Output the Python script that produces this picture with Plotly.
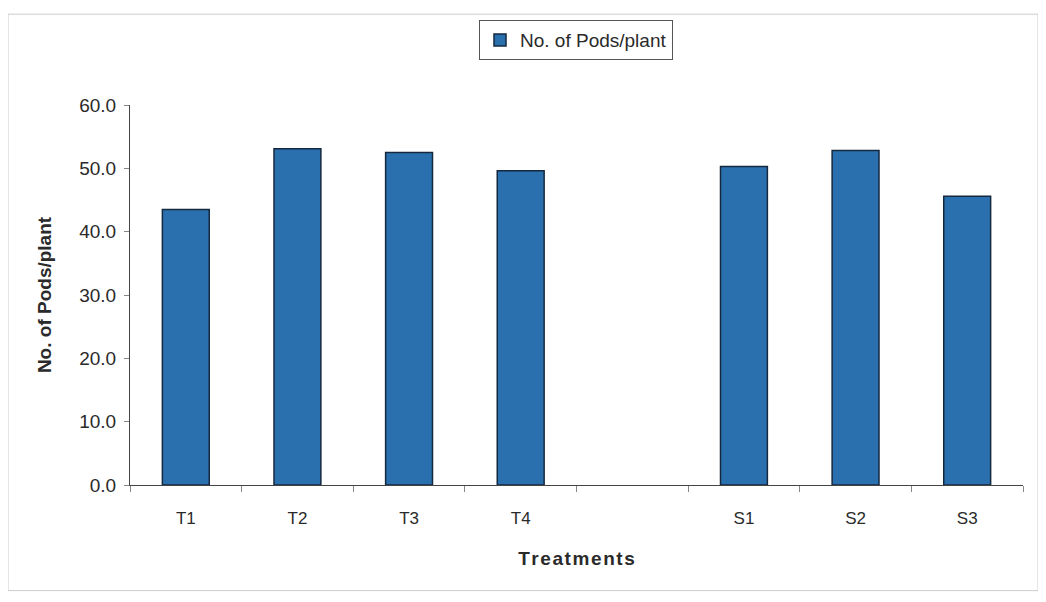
import plotly.graph_objects as go

categories = ["T1", "T2", "T3", "T4", " ", "S1", "S2", "S3"]
pods_per_plant = [43.5, 53.1, 52.5, 49.6, None, 50.3, 52.8, 45.6]
y_ticks = [0, 10, 20, 30, 40, 50, 60]

# page body has an 8px margin; figure coordinates are offset by it
OFF = 8
W, H = 1046 - 2 * OFF, 602 - 2 * OFF
ml, mt = 130 - OFF, 100 - OFF
mr = W - (1023 - OFF)
mb = H - (485 - OFF)
pw, ph = W - ml - mr, H - mt - mb

def px_x(p):
    return (p - OFF - ml) / pw

def px_y(p):
    return (H - mb - (p - OFF)) / ph

hs = "\u200a"
x_title = hs.join("Treatments")

fig = go.Figure()
fig.add_trace(go.Bar(
    x=categories, y=pods_per_plant, name="No. of Pods/plant",
    marker=dict(color="#2b70ae", line=dict(color="#14283f", width=1.5)),
    width=0.42,
))

fig.update_layout(
    width=W, height=H,
    margin=dict(l=ml, r=mr, t=mt, b=mb),
    paper_bgcolor="white", plot_bgcolor="white",
    font=dict(family="Liberation Sans, Arial, sans-serif", color="#2a2a2a", size=16),
    showlegend=True,
    legend=dict(
        x=px_x(576), y=px_y(14), xanchor="center", yanchor="top",
        orientation="h", bordercolor="#555555", borderwidth=1,
        font=dict(size=19), bgcolor="white",
    ),
    xaxis=dict(
        type="category", categoryorder="array", categoryarray=categories,
        showline=True, linecolor="#444444", linewidth=1,
        ticks="outside", tickson="boundaries", ticklen=6, tickcolor="#888888",
        showgrid=False, zeroline=False,
        tickfont=dict(size=17),
        ticklabelstandoff=18,
        title=dict(text="<b>" + x_title + "</b>", font=dict(size=19), standoff=24),
    ),
    yaxis=dict(
        range=[0, 60], tickvals=y_ticks, tickformat=".1f",
        showline=True, linecolor="#444444", linewidth=1,
        ticks="outside", ticklen=5, tickcolor="#888888",
        showgrid=False, zeroline=False,
        tickfont=dict(size=19),
        ticklabelstandoff=4,
        title=dict(text="<b>No. of Pods/plant</b>", font=dict(size=19), standoff=22),
    ),
    shapes=[dict(
        type="rect", xref="paper", yref="paper",
        x0=px_x(8), x1=px_x(1038), y0=px_y(592), y1=px_y(8),
        line=dict(color="#cccccc", width=1), layer="below",
    )],
)

fig.write_html("out.html")
